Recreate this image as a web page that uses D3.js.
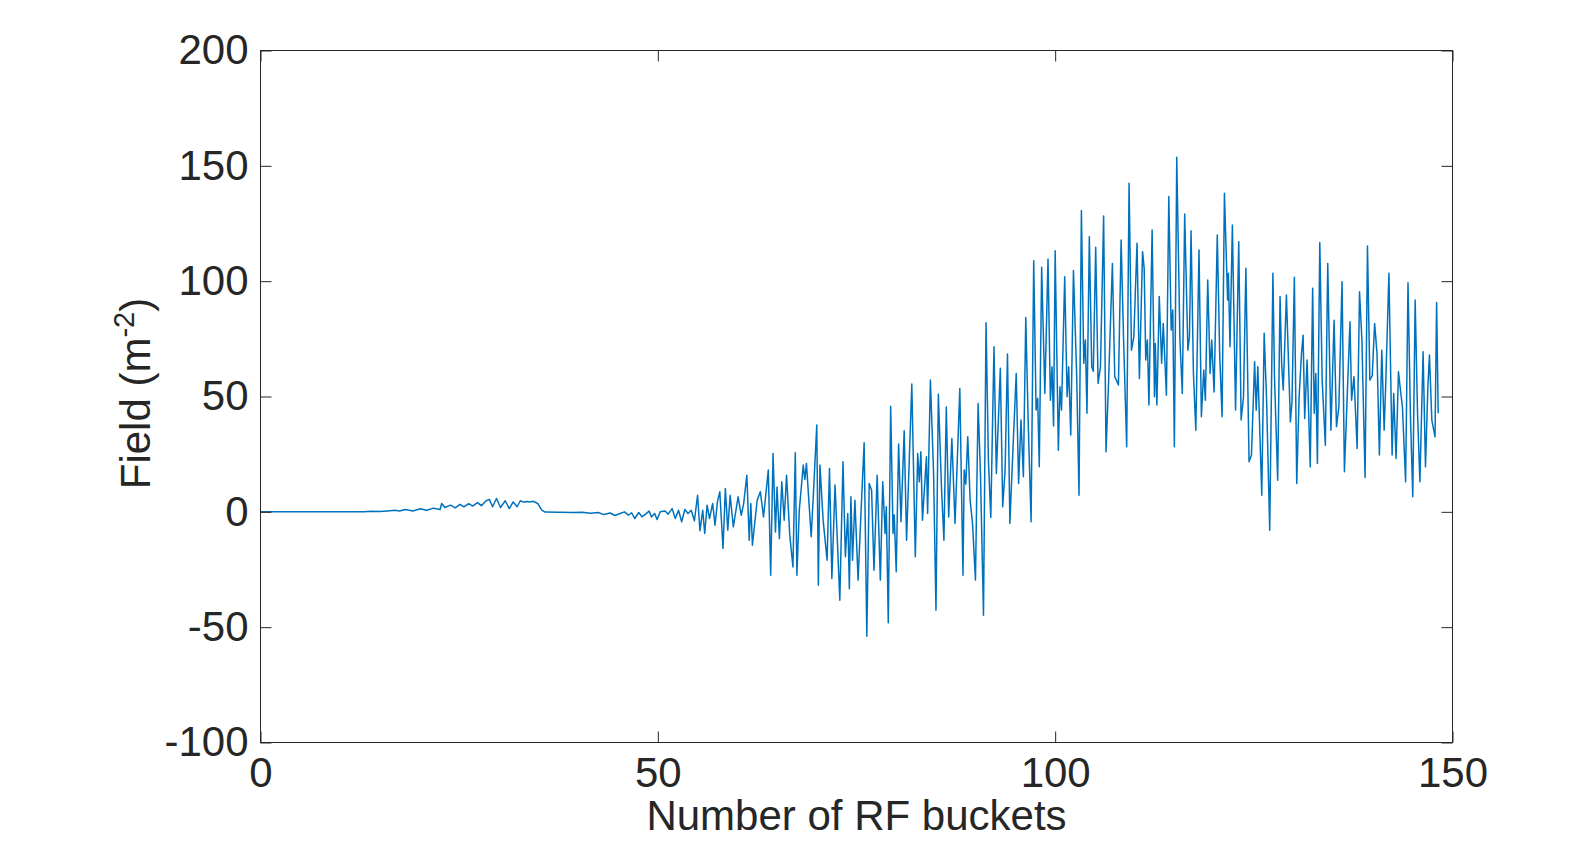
<!DOCTYPE html>
<html>
<head>
<meta charset="utf-8">
<script src="https://cdn.jsdelivr.net/npm/d3@7"></script>
<style>
  html, body { margin: 0; padding: 0; background: #fff; }
  #chart { width: 1590px; height: 844px; }
  text { font-family: "Liberation Sans", Arial, Helvetica, sans-serif; fill: #262626; }
</style>
</head>
<body>
<div id="chart"></div>
<script>
// [bucket, field] pairs, split by region
const quietPart = [
  [0,0],[13,0],[14,0.2],[15,0.1],[16,0.4],[16.9,0.7],[17.5,0.4],[18.2,1.0],[19.2,0.4],[20.1,1.3],
  [20.9,0.7],[21.8,1.6],[22.6,1.0],[22.8,3.6],[23.2,1.9],[23.9,2.9],[24.5,1.7],[25.1,3.2],[25.6,2.2],
  [26.2,3.6],[26.7,2.5],[27.3,4.0],[27.8,2.7],[28.4,4.8],[28.8,5.4],[29.2,2.2],[29.7,5.8],[30.2,1.9],
  [30.8,4.8],[31.3,1.4],[31.8,4.3],[32.3,2.2],[32.7,4.8],[33.1,4.2],[33.5,4.5],[33.9,4.3],[34.3,4.6],
  [34.9,3.6],[35.4,0.7],[35.8,-0.1],[37.5,-0.2],[39.4,-0.3],[40.5,-0.2],[41.5,-0.6],[42.5,-0.3],
  [43.2,-1.2],[44,-0.5],[44.6,-1.6],[45.25,-0.7],[45.8,0],[46.3,-1.4],[46.7,-0.4],[47.1,-2.9],
  [47.6,-0.3],[48.0,-2.2],[48.5,-0.9],[48.9,0.3],[49.2,-2.2],[49.6,-0.7],[49.9,-3.3],[50.3,0],
  [50.9,0.4],[51.3,-1.0],[51.8,1.4],[52.2,-2.9],[52.6,0.7]
];

const risePart = [
  [53.0,-4.3],[53.4,1.0],[53.8,-0.7],[54.2,0.7],[54.6,-3.9],[55.0,7.2],[55.3,-8.2],[55.65,0.7],
  [55.9,-9.4],[56.2,2.9],[56.5,-2.9],[56.9,3.6],[57.2,-5.8],[57.5,4.3],[57.8,8.7],[58.2,-15.9],
  [58.5,10.1],[58.8,-8],[59.1,7.2],[59.5,-6.5],[60.1,6.5],[60.5,-1.5],[60.8,3.6],[61.2,15.9],
  [61.5,-12.3],[61.7,3.6],[61.9,-14.5],[62.5,5],[62.9,8.7],[63.3,-2.2],[63.9,18.1],[64.2,-27.5],
  [64.5,25.3],[64.8,-8.7],[65.0,10.8],[65.3,-11.6],[65.6,13],[65.9,-3.6],[66.2,15.9],[66.6,-10.1],
  [67.0,-23.9],[67.3,25.6],[67.5,-27.5],[67.8,0.7],[68.3,20.3],[68.5,14],[68.7,21],[69.3,-10.8],
  [69.6,9.4],[70.0,37.6],[70.2,-31.8],[70.4,20.3],[70.8,-3.6],[71.3,-21],[71.6,18.8],[71.9,-28.9],
  [72.3,11.6]
];

const growthPart = [
  [72.9,-38.3],[73.3,21.7],[73.6,-19.5],[73.9,-0.7],[74.1,-33.3],[74.3,6.5],[74.5,-21],[74.8,5],
  [75.2,-29.6],[75.6,2.2],[75.96,29.9],[76.3,-53.9],[76.6,12.3],[76.9,9.4],[77.2,-25.3],[77.6,15.9],
  [78.0,-29.6],[78.3,13],[78.6,-9.4],[78.75,2.2],[79.0,-48.1],[79.3,45.8],[79.6,-9.4],[79.75,-1.4],
  [80.0,-26],[80.3,29.4],[80.6,-4.3],[81.0,35.1],[81.3,-12.3],[81.96,55.4],[82.4,-19.5],[82.7,25.3],
  [82.9,13],[83.1,26],[83.3,-3.6],[83.8,23.9],[83.95,-0.7],[84.3,57.1],[84.7,16.6],[85.0,-42.7],
  [85.3,51],[85.7,10.1],[86.0,-12.3],[86.3,45.5],[86.6,-2.2],[87.0,31.8],[87.4,-5],[88.0,53.5]
];

const highPart = [
  [88.4,-27.5],[88.55,18.1],[88.75,12],[89.0,32.5],[89.3,5],[89.6,-5],[89.97,-29.6],[90.3,47],
  [90.6,16.6],[90.98,-44.8],[91.3,82],[91.6,22.4],[91.9,-2.5],[92.3,71.6],[92.6,16.6],[93.1,62.2],
  [93.4,2.2],[93.7,18.1],[94.0,68.4],[94.3,-5],[94.7,28.2],[95.1,60],[95.4,12.3],[95.7,39.8],
  [96.0,15.2],[96.3,84.3],[96.6,39.8],[96.97,-4.3],[97.3,108.9],[97.6,44.1],[97.8,49.2],[98.0,19.5],
  [98.3,106],[98.7,51.3],[99.1,109.6],[99.4,48.4],[99.6,62.9],[99.8,37.2],[100.0,113.2],[100.4,26.7],
  [100.6,54.2],[100.8,44.1],[101.2,101.9],[101.5,49.9],[101.7,62.9],[101.96,33.3],[102.3,104.6],
  [102.7,60],[103.0,7.2],[103.3,130.6],[103.6,64.4],[103.8,74.5],[104.0,42.7],[104.3,119.3],
  [104.6,62.9],[104.8,61],[105.1,114.7],[105.4,55.7],[105.7,62.9],[106.1,128.3],[106.4,26],
  [106.7,54.2],[107.2,107.7],[107.5,58.6],[107.96,55],[108.3,117.8],[108.6,75.9],[109.0,28.2],
  [109.3,142.4],[109.6,70.1],[109.9,75.9],[110.3,116.4],[110.6,57.8]
];

const peakPart = [
  [111.0,112.8],[111.2,105.6],[111.4,65.8],[111.6,74.5],[111.8,46.3],[112.2,122.2],[112.5,49.9],
  [112.6,73],[112.8,46.3],[113.1,93.3],[113.4,64.4],[113.6,81.7],[114.0,50.6],[114.3,136.7],
  [114.6,78.8],[114.8,87.5],[115.0,28.2],[115.3,153.7],[115.7,74.5],[116.0,51.3],[116.3,129.1],
  [116.7,70.1],[116.9,75.9],[117.1,121.9],[117.4,60],[117.7,35.4],[118.1,113.5],[118.4,41.2],
  [118.7,61.5],[118.9,48.4],[119.2,100.5],[119.5,60],[119.7,74.5],[120.0,52],[120.4,120],
  [120.7,68.7],[121.0,41.2],[121.3,138.1],[121.7,91.8],[121.8,103.4],[122.0,71.6],[122.3,124.3],
  [122.7,44.1],[123.1,117.1],[123.4,39.8],[123.7,49.9],[124.0,105.6],[124.4,21.7],[124.7,24.6],
  [125.1,65.1],[125.3,44.1],[125.5,62.9],[126.0,7.2],[126.3,77.4],[126.6,49.2],[127.0,-8],
  [127.4,103.4],[127.6,58.6],[128.0,13.7]
];

const tailPart = [
  [128.3,93.3],[128.5,64.4],[128.7,52.8],[129.1,94],[129.6,39],[129.8,47.7],[130.1,101.7],
  [130.4,12.3],[130.7,49.9],[131.0,68.7],[131.2,76.6],[131.4,40.5],[131.7,65.8],[132.1,19.5],
  [132.4,96.9],[132.6,42.7],[132.8,60],[133.0,21],[133.3,116.8],[133.6,57.1],[134.0,28.9],
  [134.3,107.7],[134.7,35.4],[135.1,83.1],[135.4,36.9],[135.7,45.5],[136.1,99.8],[136.4,17.4],
  [136.7,45.5],[137.1,82.4],[137.3,48.4],[137.6,58.6],[138.0,27.5],[138.3,95.4],[138.6,74.5],
  [139.0,14.9],[139.3,115.2],[139.6,57.1],[139.9,59],[140.2,81.7],[140.5,68.7],[140.8,24.6],
  [141.1,70.1],[141.4,35.4],[141.6,55.7],[142.0,103.4],[142.4,24.6],[142.6,51.3],[142.9,23.1],
  [143.2,60.7],[143.5,51.3],[143.7,45.5],[144.1,13],[144.4,99.3],[144.7,42.7],[145.0,6.5],
  [145.3,91.8],[145.6,42.7],[145.9,13],[146.3,69.4],[146.6,19.5],[146.9,54.2],[147.1,68],
  [147.4,39.8],[147.8,32.5],[148.0,90.7],[148.2,42.7]
];

const xTicks = [0, 50, 100, 150];
const yTicks = [-100, -50, 0, 50, 100, 150, 200];

function draw() {
  const container = d3.select("#chart");
  container.selectAll("*").remove();

  const width = 1590, height = 844;
  const left = 260.5, right = 1452.5, top = 50.5, bottom = 742.5;
  const axisColor = "#262626";
  const tickLen = 11;
  const plain = d => String(d); // hyphen minus like the original

  const svg = container.append("svg").attr("width", width).attr("height", height);

  const x = d3.scaleLinear().domain([0, 150]).range([left, right]);
  const y = d3.scaleLinear().domain([-100, 200]).range([bottom, top]);

  const signal = [].concat(quietPart, risePart, growthPart, highPart, peakPart, tailPart);

  const line = d3.line().x(d => x(d[0])).y(d => y(d[1]));

  svg.append("path")
    .datum(signal)
    .attr("fill", "none")
    .attr("stroke", "#0072BD")
    .attr("stroke-width", 1.5)
    .attr("stroke-linejoin", "round")
    .attr("d", line);

  // axes with inward ticks on all four sides
  const styleAxis = g => {
    g.select(".domain").remove();
    g.selectAll(".tick line").attr("stroke", axisColor);
    g.selectAll(".tick text").style("font-size", "42px").attr("fill", axisColor);
  };

  svg.append("g")
    .attr("transform", `translate(0,${bottom})`)
    .call(d3.axisBottom(x).tickValues(xTicks).tickFormat(plain).tickSizeInner(-tickLen).tickSizeOuter(0).tickPadding(15))
    .call(styleAxis);

  svg.append("g")
    .attr("transform", `translate(0,${top})`)
    .call(d3.axisTop(x).tickValues(xTicks).tickSizeInner(-tickLen).tickSizeOuter(0).tickFormat(""))
    .call(styleAxis);

  svg.append("g")
    .attr("transform", `translate(${left},0)`)
    .call(d3.axisLeft(y).tickValues(yTicks).tickFormat(plain).tickSizeInner(-tickLen).tickSizeOuter(0).tickPadding(12))
    .call(styleAxis);

  svg.append("g")
    .attr("transform", `translate(${right},0)`)
    .call(d3.axisRight(y).tickValues(yTicks).tickSizeInner(-tickLen).tickSizeOuter(0).tickFormat(""))
    .call(styleAxis);

  svg.append("rect")
    .attr("x", left).attr("y", top)
    .attr("width", right - left).attr("height", bottom - top)
    .attr("fill", "none")
    .attr("stroke", axisColor)
    .attr("stroke-width", 1);

  svg.append("text")
    .attr("x", (left + right) / 2)
    .attr("y", 830)
    .attr("text-anchor", "middle")
    .style("font-size", "42px")
    .text("Number of RF buckets");

  const yLabel = svg.append("text")
    .attr("transform", `translate(150,${(top + bottom) / 2 - 3}) rotate(-90)`)
    .attr("text-anchor", "middle")
    .style("font-size", "42px");
  yLabel.append("tspan").text("Field (m");
  yLabel.append("tspan").attr("dy", -16).style("font-size", "29px").text("-2");
  yLabel.append("tspan").attr("dy", 16).text(")");
}

draw();
</script>
</body>
</html>
